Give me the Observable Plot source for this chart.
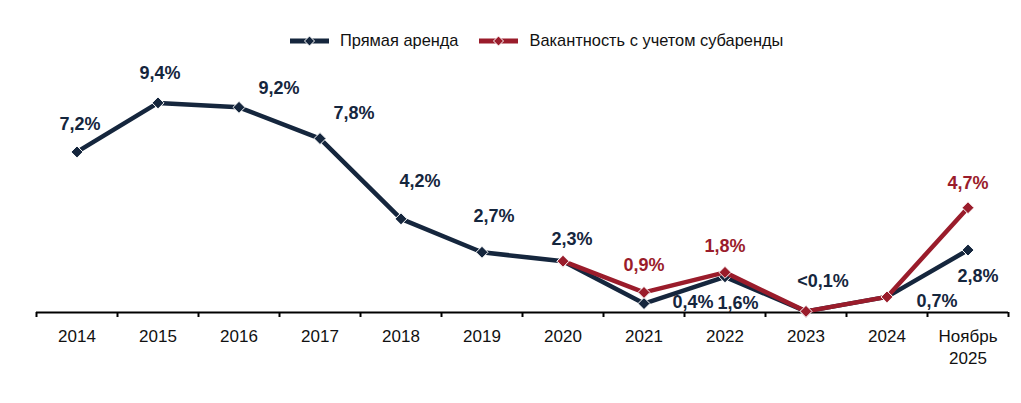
<!DOCTYPE html>
<html>
<head>
<meta charset="utf-8">
<script src="https://cdn.jsdelivr.net/npm/d3@7"></script>
<script src="https://cdn.jsdelivr.net/npm/@observablehq/plot@0.6"></script>
<style>
  html, body { margin: 0; padding: 0; background: #fff; }
  body { width: 1021px; height: 403px; position: relative; overflow: hidden; font-family: "Liberation Sans", Arial, sans-serif; }
  #legend { position: absolute; top: 31px; left: 290px; display: flex; align-items: center; font-size: 16.4px; color: #111; }
  .item { display: flex; align-items: center; margin-right: 21px; }
  .item svg { margin-right: 11px; }
  #chart { position: absolute; top: 0; left: 0; }
</style>
</head>
<body>
<div id="legend"></div>
<div id="chart"></div>
<script>
// ---- data ----
const categories = ["2014","2015","2016","2017","2018","2019","2020","2021","2022","2023","2024","Ноябрь\n2025"];
const directValues = [7.2, 9.4, 9.2, 7.8, 4.2, 2.7, 2.3, 0.4, 1.6, 0.05, 0.7, 2.8];
const directLabels = ["7,2%","9,4%","9,2%","7,8%","4,2%","2,7%","2,3%","0,4%","1,6%","<0,1%","0,7%","2,8%"];
const subleaseCategories = ["2020","2021","2022","2023","2024","Ноябрь\n2025"];
const subleaseValues = [2.3, 0.9, 1.8, 0.05, 0.7, 4.7];
const subleaseLabels = ["", "0,9%", "1,8%", "", "", "4,7%"];
const seriesNames = ["Прямая аренда", "Вакантность с учетом субаренды"];

// ---- styling / layout (not data) ----
const navy = "#15263d";
const red = "#9a1c2b";
const directOffsets = [[3,-28],[2,-30],[40,-19],[34,-25],[19,-38],[12,-36],[9,-22],[49,-1],[13,26],[17,-30],[50,4],[10,26]];
const subleaseOffsets = [[0,0],[0,-27],[0,-26],[0,0],[0,0],[0,-24]];

const direct = categories.map((c, i) => ({cat: c, v: directValues[i], label: directLabels[i], dx: directOffsets[i][0], dy: directOffsets[i][1]}));
const sublease = subleaseCategories.map((c, i) => ({cat: c, v: subleaseValues[i], label: subleaseLabels[i], dx: subleaseOffsets[i][0], dy: subleaseOffsets[i][1]}));

// legend
const legend = document.getElementById("legend");
[[seriesNames[0], navy], [seriesNames[1], red]].forEach(([name, col]) => {
  const it = document.createElement("div");
  it.className = "item";
  it.innerHTML = `<svg width="39" height="12"><line x1="0" x2="39" y1="6" y2="6" stroke="${col}" stroke-width="5"/><path d="M19.5,1 L24.5,6 L19.5,11 L14.5,6 Z" fill="${col}" stroke="#fff" stroke-width="1"/></svg><span>${name}</span>`;
  legend.appendChild(it);
});

const step = (1008 - 36) / categories.length;

const labelMarks = (data, color) => data.filter(d => d.label).map(d =>
  Plot.text([d], {x: "cat", y: "v", text: "label", dx: d.dx, dy: d.dy, fill: color, fontWeight: "bold", fontSize: 18})
);

const chart = Plot.plot({
  width: 1021,
  height: 403,
  marginLeft: 36,
  marginRight: 13,
  marginTop: 89,
  marginBottom: 91,
  style: {fontFamily: "'Liberation Sans', Arial, sans-serif", fontSize: "17px", color: "#111", background: "transparent", overflow: "visible"},
  x: {type: "band", domain: categories, padding: 0, axis: null},
  y: {domain: [0, 10], axis: null},
  marks: [
    Plot.axisX({tickSize: 0, tickPadding: 14, fontSize: 17, lineHeight: 1.3, label: null, tickFormat: d => d, fill: "#111"}),
    Plot.ruleX(categories, {x: d => d, dx: -step / 2, insetTop: 223, insetBottom: -5, stroke: "#000", strokeWidth: 2}),
    Plot.ruleX(categories.slice(-1), {x: d => d, dx: step / 2, insetTop: 223, insetBottom: -5, stroke: "#000", strokeWidth: 2}),
    Plot.ruleY([0], {stroke: "#000", strokeWidth: 2}),
    Plot.line(direct, {x: "cat", y: "v", stroke: navy, strokeWidth: 4.5}),
    Plot.dot(direct, {x: "cat", y: "v", symbol: "diamond2", r: 5.4, fill: navy, stroke: "#fff", strokeWidth: 1}),
    Plot.line(sublease, {x: "cat", y: "v", stroke: red, strokeWidth: 4.5}),
    Plot.dot(sublease, {x: "cat", y: "v", symbol: "diamond2", r: 5.4, fill: red, stroke: "#fff", strokeWidth: 1}),
    ...labelMarks(direct, navy),
    ...labelMarks(sublease, red)
  ]
});
document.getElementById("chart").appendChild(chart);
</script>
</body>
</html>
